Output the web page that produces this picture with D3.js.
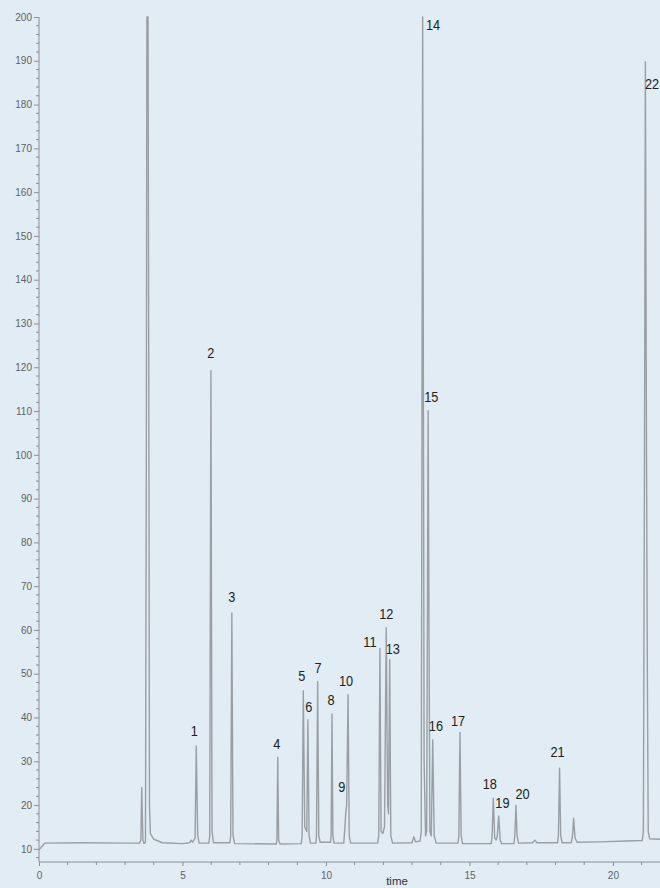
<!DOCTYPE html>
<html>
<head>
<meta charset="utf-8">
<script src="https://cdn.jsdelivr.net/npm/d3@7"></script>
<style>
  html, body { margin: 0; padding: 0; background: #e1ecf4; }
  svg { display: block; }
</style>
</head>
<body>
<svg id="chart" width="660" height="888"></svg>
<script>
// ---- Data ----
// trace: [time, response]
const trace = [
  [0.00, 9.8], [0.20, 11.3], [1.50, 11.4], [3.00, 11.3], [3.50, 11.3],
  [3.55, 12.0], [3.58, 24.0], [3.62, 12.0], [3.66, 11.2],
  [3.71, 11.5], [3.74, 100], [3.76, 200], [3.80, 200], [3.83, 100], [3.85, 20], [3.88, 13.5], [4.00, 12.2], [4.30, 11.4], [5.00, 11.2],
  [5.25, 11.4], [5.30, 12.0], [5.36, 11.5], [5.44, 12.5], [5.48, 33.5], [5.53, 13.0], [5.58, 11.3],
  [5.92, 11.3], [5.95, 13.0], [5.99, 119.2], [6.03, 14.0], [6.08, 11.4],
  [6.65, 11.4], [6.68, 13.0], [6.72, 63.9], [6.76, 13.0], [6.82, 11.2],
  [8.27, 11.1], [8.29, 12.0], [8.32, 30.9], [8.35, 12.0], [8.40, 11.1],
  [9.14, 11.2], [9.17, 13.0], [9.21, 46.1], [9.26, 15.0], [9.33, 14.0], [9.37, 39.5], [9.41, 13.0], [9.46, 11.3],
  [9.65, 11.3], [9.67, 13.0], [9.71, 48.2], [9.75, 13.0], [9.80, 11.5],
  [10.16, 11.5], [10.18, 13.0], [10.21, 40.8], [10.24, 13.0], [10.28, 11.3],
  [10.62, 11.3], [10.66, 15.0], [10.69, 18.2], [10.72, 20.0], [10.77, 45.2], [10.81, 13.0], [10.86, 11.3],
  [11.80, 11.3], [11.84, 13.0], [11.88, 55.8], [11.92, 14.0], [11.98, 13.5], [12.04, 15.0], [12.10, 60.5], [12.15, 20.0], [12.18, 18.0], [12.22, 53.2], [12.26, 13.0], [12.32, 11.3],
  [13.00, 11.4], [13.06, 12.8], [13.12, 11.6], [13.28, 11.8], [13.32, 14.0], [13.37, 200], [13.42, 30.0], [13.47, 13.0], [13.51, 14.0], [13.56, 110.1], [13.62, 14.0], [13.67, 13.0], [13.72, 34.9], [13.77, 13.0], [13.84, 11.3],
  [14.60, 11.3], [14.63, 13.0], [14.67, 36.6], [14.71, 13.0], [14.76, 11.2],
  [15.76, 11.2], [15.79, 13.0], [15.83, 21.6], [15.88, 12.5], [15.93, 12.0], [15.97, 13.0], [16.02, 17.5], [16.07, 12.0], [16.12, 11.2],
  [16.55, 11.2], [16.58, 13.0], [16.62, 19.9], [16.66, 13.0], [16.71, 11.3],
  [17.20, 11.4], [17.28, 12.0], [17.35, 11.4],
  [18.07, 11.4], [18.10, 13.0], [18.14, 28.4], [18.18, 13.0], [18.23, 11.4],
  [18.55, 11.4], [18.59, 13.0], [18.63, 17.0], [18.68, 12.5], [18.75, 11.5],
  [19.50, 11.6], [20.50, 11.8], [21.02, 11.9], [21.06, 14.0], [21.10, 100], [21.13, 189.8], [21.17, 100], [21.20, 50], [21.23, 14.0], [21.28, 12.3], [21.64, 12.2]
];

// peak labels: [label, time, response at label centre]
const peakLabels = [
  ["1", 5.41, 36.9], ["2", 5.99, 123.4], ["3", 6.72, 67.7], ["4", 8.29, 34.0],
  ["5", 9.16, 49.5], ["6", 9.40, 42.6], ["7", 9.72, 51.5], ["8", 10.18, 44.0],
  ["9", 10.55, 24.3], ["10", 10.70, 48.4], ["11", 11.53, 57.4], ["12", 12.10, 63.8],
  ["13", 12.33, 55.8], ["14", 13.73, 198.2], ["15", 13.67, 113.4], ["16", 13.83, 38.2],
  ["17", 14.60, 39.3], ["18", 15.71, 24.8], ["19", 16.15, 20.6], ["20", 16.85, 22.6],
  ["21", 18.07, 32.3], ["22", 21.36, 184.9]
];

const xMajorTicks = [0, 5, 10, 15, 20];
const yMajorTicks = [10, 20, 30, 40, 50, 60, 70, 80, 90, 100, 110, 120, 130, 140, 150, 160, 170, 180, 190, 200];
const xTitle = "time";

// ---- Layout ----
const svg = d3.select("#chart");
const x = d3.scaleLinear().domain([0, 21.64]).range([39, 660]);
const y = d3.scaleLinear().domain([7, 200]).range([862, 17]);

const axisColor = "#8a8f94";
const tickTextColor = "#5f6266";
const font = "Liberation Sans, Arial, sans-serif";

// X axis
const xMinor = d3.range(0, 22, 1).filter(v => !xMajorTicks.includes(v));
const gx = svg.append("g").attr("transform", "translate(0,862)");
gx.append("line").attr("x1", 39).attr("x2", 660).attr("y1", 0).attr("y2", 0)
  .attr("stroke", axisColor).attr("stroke-width", 1);
gx.selectAll("line.minor").data(xMinor).join("line").attr("class", "minor")
  .attr("x1", d => x(d)).attr("x2", d => x(d)).attr("y1", 0).attr("y2", 3)
  .attr("stroke", axisColor);
const xAxis = d3.axisBottom(x).tickValues(xMajorTicks).tickSize(4).tickPadding(6).tickFormat(d3.format("d"));
const gxa = svg.append("g").attr("transform", "translate(0,862)").call(xAxis);
gxa.select(".domain").remove();
gxa.selectAll(".tick line").attr("stroke", axisColor);
gxa.selectAll(".tick text").attr("fill", tickTextColor).style("font-family", font).style("font-size", "10px");

// Y axis
const yMinor = d3.range(8, 200, 2).filter(v => v % 10 !== 0);
const gy = svg.append("g").attr("transform", "translate(39,0)");
gy.append("line").attr("x1", 0).attr("x2", 0).attr("y1", 17).attr("y2", 862)
  .attr("stroke", axisColor).attr("stroke-width", 1);
gy.selectAll("line.minor").data(yMinor).join("line").attr("class", "minor")
  .attr("x1", -3).attr("x2", 0).attr("y1", d => y(d)).attr("y2", d => y(d))
  .attr("stroke", axisColor);
const yAxis = d3.axisLeft(y).tickValues(yMajorTicks).tickSize(5).tickPadding(2).tickFormat(d3.format("d"));
const gya = svg.append("g").attr("transform", "translate(39,0)").call(yAxis);
gya.select(".domain").remove();
gya.selectAll(".tick line").attr("stroke", axisColor);
gya.selectAll(".tick text").attr("fill", tickTextColor).style("font-family", font).style("font-size", "10px");

// X title
svg.append("text").attr("x", 397).attr("y", 885).attr("text-anchor", "middle")
  .attr("fill", "#333").style("font-family", font).style("font-size", "11.5px")
  .text(xTitle);

// Trace
const line = d3.line().x(d => x(d[0])).y(d => y(d[1]));
svg.append("path").datum(trace).attr("d", line)
  .attr("fill", "none").attr("stroke", "#9a9fa4").attr("stroke-width", 1.4)
  .attr("stroke-linejoin", "round");

// Peak labels
svg.append("g").selectAll("text").data(peakLabels).join("text")
  .attr("transform", d => `translate(${x(d[1])},${y(d[2])}) scale(0.85,1)`)
  .attr("text-anchor", "middle")
  .attr("dy", "0.36em")
  .attr("fill", "#222")
  .style("font-family", font)
  .style("font-size", "15px")
  .text(d => d[0]);
</script>
</body>
</html>
